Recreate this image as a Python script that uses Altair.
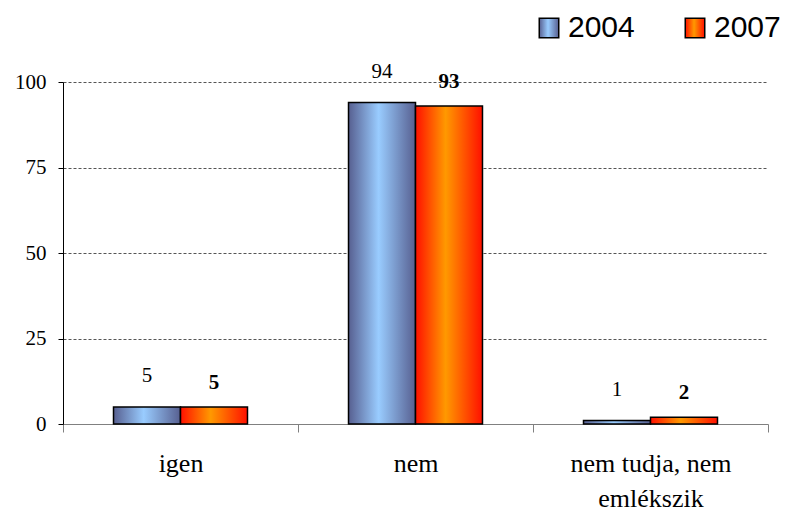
import altair as alt
import pandas as pd

categories = ["igen", "nem", "nem tudja, nem emlékszik"]
years = ["2004", "2007"]
values_2004 = [5, 94, 1]
values_2007 = [5, 93, 2]
y_ticks = [0, 25, 50, 75, 100]

rows = []
for c, a, b in zip(categories, values_2004, values_2007):
    rows.append({"category": c, "year": years[0], "value": a})
    rows.append({"category": c, "year": years[1], "value": b})
df = pd.DataFrame(rows)

SERIF = "'Times New Roman', 'Liberation Serif', Tinos, serif"
SANS = "Arial, 'Liberation Sans', sans-serif"


def grad(edge, center):
    return {
        "expr": "{gradient: 'linear', x1: 0, y1: 0, x2: 1, y2: 0, stops: ["
        "{offset: 0, color: '%s'}, {offset: 0.45, color: '%s'}, {offset: 1, color: '%s'}]}"
        % (edge, center, edge)
    }


blue_grad = grad("#575f90", "#99ccff")
orange_grad = grad("#ff1000", "#ff9900")

x_enc = alt.X(
    "category:N",
    sort=categories,
    scale=alt.Scale(paddingInner=0, paddingOuter=0),
    axis=alt.Axis(
        title=None,
        labelAngle=0,
        labelFont=SERIF,
        labelFontSize=26,
        labelColor="black",
        labelPadding=18,
        labelLineHeight=35,
        labelExpr="datum.label == 'nem tudja, nem emlékszik' ? ['nem tudja,  nem', 'emlékszik'] : datum.label",
        domainColor="#808080",
        tickColor="#808080",
        tickSize=8,
        tickBand="extent",
        grid=False,
    ),
)
xo_enc = alt.XOffset(
    "year:N", scale=alt.Scale(domain=years, paddingOuter=0.754, paddingInner=0)
)
y_enc = alt.Y(
    "value:Q",
    scale=alt.Scale(domain=[0, 100], nice=False),
    axis=alt.Axis(
        title=None,
        values=y_ticks,
        labelFont=SERIF,
        labelFontSize=21,
        labelColor="black",
        labelPadding=12,
        domainColor="black",
        tickColor="black",
        tickSize=5,
        grid=True,
        gridColor="#555555",
        gridDash=[3, 2],
        gridWidth=1,
    ),
)

bars = alt.Chart(df).mark_bar(stroke="black", strokeWidth=1.5).encode(
    x=x_enc,
    xOffset=xo_enc,
    y=y_enc,
    color=alt.Color(
        "year:N",
        scale=alt.Scale(domain=years, range=[blue_grad, orange_grad]),
        legend=alt.Legend(
            title=None,
            orient="none",
            legendX=471,
            legendY=-69,
            direction="horizontal",
            symbolType="square",
            symbolSize=380,
            symbolStrokeColor="black",
            symbolStrokeWidth=1.5,
            labelFont=SANS,
            labelFontSize=30,
            labelColor="black",
            labelOffset=4,
            columnPadding=45,
        ),
    ),
)

labels_2004 = (
    alt.Chart(df)
    .transform_filter(alt.datum.year == years[0])
    .mark_text(font=SERIF, fontSize=21, dy=-25, baseline="alphabetic", color="black")
    .encode(x=x_enc, xOffset=xo_enc, y=y_enc, text="value:Q")
)
labels_2007 = (
    alt.Chart(df)
    .transform_filter(alt.datum.year == years[1])
    .mark_text(font=SERIF, fontSize=21, fontWeight="bold", dy=-18, baseline="alphabetic", color="black")
    .encode(x=x_enc, xOffset=xo_enc, y=y_enc, text="value:Q")
)

chart = (
    alt.layer(bars, labels_2004, labels_2007)
    .properties(
        width=705,
        height=342,
        autosize="none",
        padding={"left": 55, "top": 74, "right": 16, "bottom": 89},
        background="white",
    )
    .configure_view(stroke=None)
)

chart.save("out.html", embed_options={"renderer": "svg", "actions": False})
